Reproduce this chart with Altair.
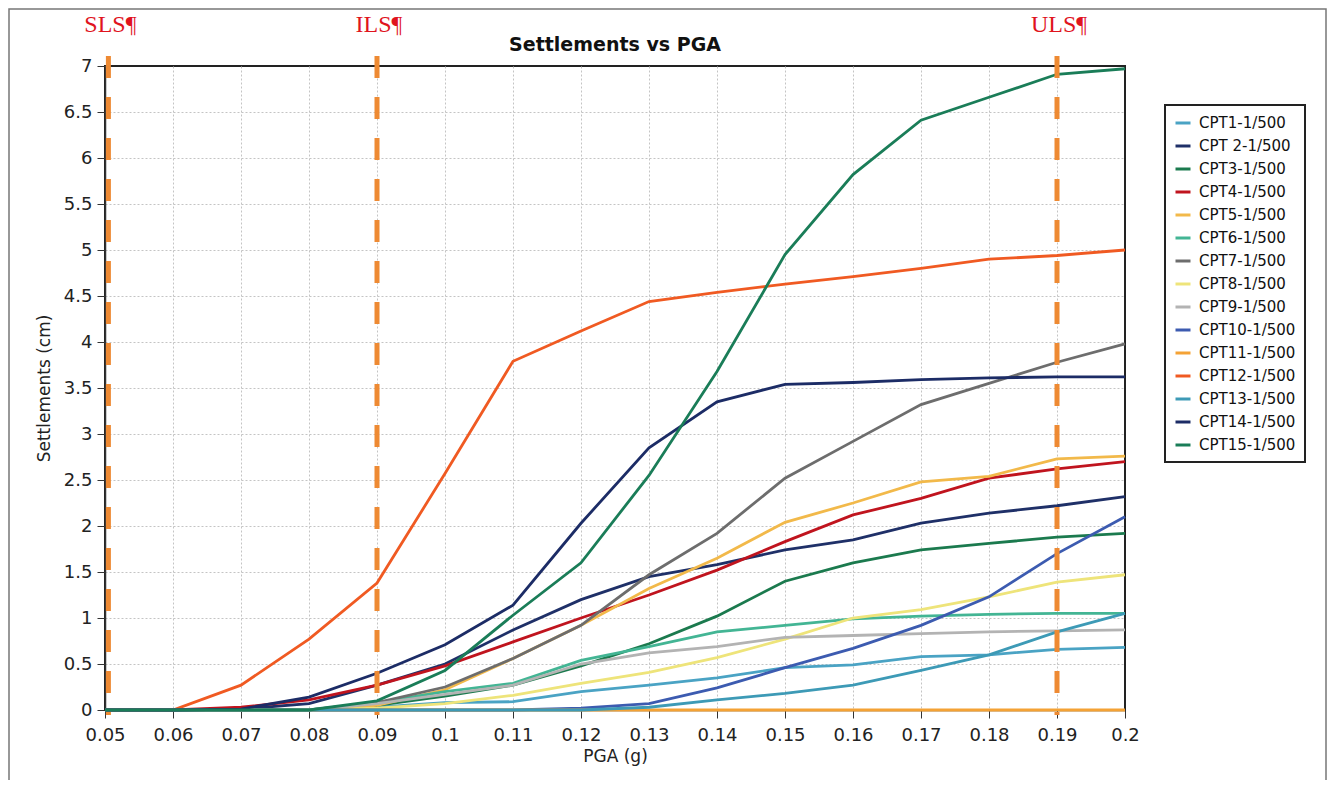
import altair as alt
import pandas as pd

pga = [0.05, 0.06, 0.07, 0.08, 0.09, 0.10, 0.11, 0.12, 0.13, 0.14, 0.15, 0.16, 0.17, 0.18, 0.19, 0.20]

names = ["CPT1-1/500", "CPT 2-1/500", "CPT3-1/500", "CPT4-1/500", "CPT5-1/500",
         "CPT6-1/500", "CPT7-1/500", "CPT8-1/500", "CPT9-1/500", "CPT10-1/500",
         "CPT11-1/500", "CPT12-1/500", "CPT13-1/500", "CPT14-1/500", "CPT15-1/500"]

colors = ["#4aa3c4", "#1f3068", "#1b7a4e", "#c0141e", "#f2b94a",
          "#43b594", "#6d6d6d", "#eee47a", "#b3b3b3", "#3c5bb0",
          "#f4a235", "#f05a22", "#3d9ab6", "#1c2c66", "#1a7d58"]

cpt1 = [0, 0, 0, 0, 0.03, 0.08, 0.09, 0.20, 0.27, 0.35, 0.46, 0.49, 0.58, 0.60, 0.66, 0.68]
cpt2 = [0, 0, 0.01, 0.07, 0.27, 0.50, 0.87, 1.20, 1.45, 1.58, 1.74, 1.85, 2.03, 2.14, 2.22, 2.32]
cpt3 = [0, 0, 0, 0, 0.05, 0.15, 0.27, 0.48, 0.72, 1.02, 1.40, 1.60, 1.74, 1.81, 1.88, 1.92]
cpt4 = [0, 0, 0.03, 0.11, 0.27, 0.48, 0.74, 1.00, 1.25, 1.52, 1.83, 2.12, 2.30, 2.52, 2.62, 2.70]
cpt5 = [0, 0, 0, 0, 0.05, 0.22, 0.56, 0.92, 1.32, 1.65, 2.04, 2.25, 2.48, 2.54, 2.73, 2.76]
cpt6 = [0, 0, 0, 0, 0.08, 0.20, 0.29, 0.54, 0.69, 0.85, 0.92, 0.99, 1.02, 1.04, 1.05, 1.05]
cpt7 = [0, 0, 0, 0, 0.08, 0.25, 0.56, 0.92, 1.47, 1.92, 2.52, 2.92, 3.32, 3.55, 3.78, 3.98]
cpt8 = [0, 0, 0, 0, 0.02, 0.07, 0.16, 0.29, 0.41, 0.57, 0.77, 1.00, 1.09, 1.23, 1.39, 1.47]
cpt9 = [0, 0, 0, 0, 0.07, 0.17, 0.27, 0.50, 0.62, 0.69, 0.79, 0.81, 0.83, 0.85, 0.86, 0.87]
cpt10 = [0, 0, 0, 0, 0, 0, 0, 0.02, 0.07, 0.24, 0.46, 0.67, 0.92, 1.23, 1.70, 2.10]
cpt11 = [0, 0, 0, 0, 0, 0, 0, 0, 0, 0, 0, 0, 0, 0, 0, 0]
cpt12 = [0, 0, 0.27, 0.77, 1.38, 2.57, 3.79, 4.12, 4.44, 4.54, 4.63, 4.71, 4.80, 4.90, 4.94, 5.00]
cpt13 = [0, 0, 0, 0, 0, 0, 0, 0, 0.03, 0.11, 0.18, 0.27, 0.43, 0.60, 0.85, 1.05]
cpt14 = [0, 0, 0.01, 0.14, 0.40, 0.71, 1.14, 2.03, 2.85, 3.35, 3.54, 3.56, 3.59, 3.61, 3.62, 3.62]
cpt15 = [0, 0, 0, 0, 0.10, 0.43, 1.03, 1.60, 2.55, 3.68, 4.95, 5.82, 6.41, 6.66, 6.91, 6.97]

series = [cpt1, cpt2, cpt3, cpt4, cpt5, cpt6, cpt7, cpt8, cpt9, cpt10,
          cpt11, cpt12, cpt13, cpt14, cpt15]

limit_pga = [0.0505, 0.09, 0.19]
limit_labels = ["SLS¶", "ILS¶", "ULS¶"]

chart_title = "Settlements vs PGA"

x_ticks = [0.05, 0.06, 0.07, 0.08, 0.09, 0.1, 0.11, 0.12, 0.13, 0.14, 0.15, 0.16, 0.17, 0.18, 0.19, 0.2]
y_ticks = [0, 0.5, 1, 1.5, 2, 2.5, 3, 3.5, 4, 4.5, 5, 5.5, 6, 6.5, 7]

rows = []
for name, vals in zip(names, series):
    for i, (p, v) in enumerate(zip(pga, vals)):
        rows.append({"series": name, "pga": p, "settle": v, "idx": i})
df = pd.DataFrame(rows)
limits = pd.DataFrame({"pga": limit_pga, "label": limit_labels})

W, H = 1020, 644

xscale = alt.Scale(domain=[0.05, 0.2], nice=False, zero=False)
yscale = alt.Scale(domain=[0, 7], nice=False)

frame = alt.Chart(pd.DataFrame({"a": [0]})).mark_rect(
    fillOpacity=0, stroke="#777777", strokeWidth=1.5
).encode(x=alt.value(-96), x2=alt.value(1221), y=alt.value(-57), y2=alt.value(720))

title_mark = alt.Chart(pd.DataFrame({"t": [chart_title]})).mark_text(
    font="DejaVu Sans", fontSize=19, fontWeight="bold", color="#111111",
    align="center", baseline="alphabetic"
).encode(x=alt.value(W / 2), y=alt.value(-15), text="t:N")

lines = alt.Chart(df).mark_line(strokeWidth=2.8).encode(
    x=alt.X("pga:Q", scale=xscale,
            axis=alt.Axis(values=x_ticks, format="~g", title="PGA (g)", labelFlush=False,
                          gridOpacity=alt.condition("datum.value >= 0.2", alt.value(0), alt.value(1)))),
    y=alt.Y("settle:Q", scale=yscale,
            axis=alt.Axis(values=y_ticks, format="~g", title="Settlements (cm)", labelFlush=False,
                          gridOpacity=alt.condition("datum.value >= 7", alt.value(0), alt.value(1)))),
    color=alt.Color("series:N", sort=names,
                    scale=alt.Scale(domain=names, range=colors),
                    legend=alt.Legend(title=None, orient="none", legendX=1060, legendY=39,
                                      strokeColor="#222222", fillColor="white",
                                      padding=9, rowPadding=6, symbolType="stroke",
                                      symbolSize=225, symbolStrokeWidth=3,
                                      labelFont="DejaVu Sans", labelFontSize=15,
                                      labelColor="#111111", labelOffset=7)),
    order=alt.Order("idx:Q"),
)

rules = alt.Chart(limits).mark_rule(
    color="#ee8a33", strokeWidth=5, strokeDash=[22, 19]
).encode(x=alt.X("pga:Q", scale=xscale), y=alt.value(-10), y2=alt.value(H + 5))

texts = alt.Chart(limits).mark_text(
    font="Liberation Serif", fontSize=24, color="#e0141e",
    align="center", baseline="alphabetic", dx=2
).encode(x=alt.X("pga:Q", scale=xscale), y=alt.value(-34), text="label:N")

chart = alt.layer(frame, lines, rules, texts, title_mark).properties(
    width=W, height=H,
    padding={"left": 97, "top": 58, "right": 202, "bottom": 70},
    autosize=alt.AutoSizeParams(type="none"),
).configure_view(
    stroke="#222222", strokeWidth=2
).configure_legend(
    strokeWidth=2
).configure_axis(
    domainColor="#333333", domainWidth=1.5, tickColor="#333333", tickSize=8,
    labelFont="DejaVu Sans", labelFontSize=18, labelColor="#222222",
    titleFont="DejaVu Sans", titleFontSize=17, titleFontWeight="normal",
    titleColor="#222222",
    gridColor="#c4c4c4", gridDash=[2, 2], gridWidth=1,
).configure_axisX(
    labelPadding=8, titlePadding=4
).configure_axisY(
    labelPadding=5, titlePadding=10
)

chart.save("out.html", embed_options={"renderer": "svg", "actions": False})
